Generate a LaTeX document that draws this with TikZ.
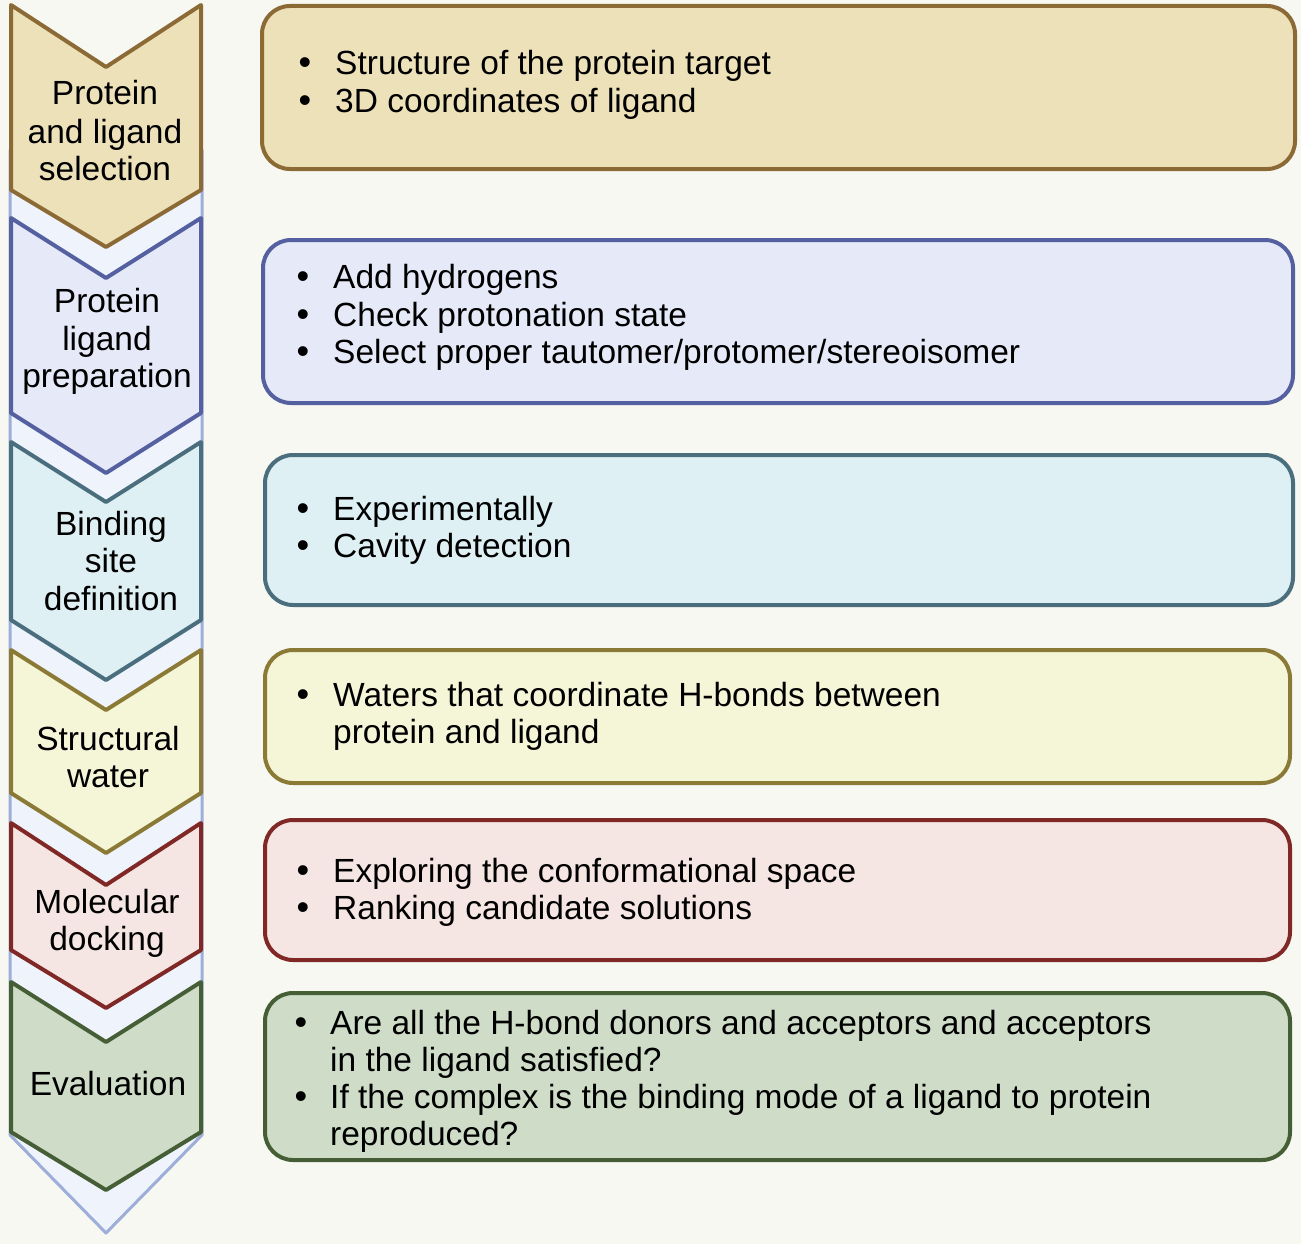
\documentclass[tikz,border=0pt]{standalone}
\usepackage{fontspec}
\setmainfont{Liberation Sans}
\definecolor{pagebg}{HTML}{F7F8F2}
\definecolor{bgf}{HTML}{EEF3FC}
\definecolor{bgd}{HTML}{9DAED8}
\definecolor{af}{HTML}{EDE1B9}\definecolor{ad}{HTML}{8B6A35}
\definecolor{bf}{HTML}{E6E9F8}\definecolor{bd}{HTML}{5460A0}
\definecolor{cf}{HTML}{DFF0F4}\definecolor{cd}{HTML}{4A6E7E}
\definecolor{df}{HTML}{F5F5D8}\definecolor{dd}{HTML}{8B7A35}
\definecolor{ef}{HTML}{F5E6E3}\definecolor{ed}{HTML}{802826}
\definecolor{ff}{HTML}{CEDCC8}\definecolor{fd}{HTML}{465E35}
\tikzset{
  lbl/.style={anchor=base, inner sep=0pt, font=\fontsize{33.5}{38}\selectfont},
  txt/.style={anchor=base west, inner sep=0pt, font=\fontsize{33.5}{38}\selectfont},
  bul/.style={anchor=base, inner sep=0pt, font=\fontsize{36}{38}\selectfont},
  chev/.style={line width=4pt, line join=round},
  boxs/.style={line width=4pt, rounded corners=28pt},
}
\newcommand{\chevron}[6]{% fill, draw, top, notch, sidebottom, tip
  \draw[chev, fill=#1, draw=#2] (11,#3) -- (106,#4) -- (201,#3) -- (201,#5) -- (106,#6) -- (11,#5) -- cycle;}
\begin{document}
\begin{tikzpicture}[x=1pt, y=-1pt]
\fill[pagebg] (0,0) rectangle (1301,1244);
\useasboundingbox (0,0) rectangle (1301,1244);
% background chevron (its top is hidden behind the first step)
\draw[line width=3pt, line join=round, fill=bgf, draw=bgd] (10,150) -- (202,150) -- (202,1135) -- (106,1233) -- (10,1135) -- cycle;
% chevrons
\chevron{af}{ad}{5}{67}{190}{247}
\chevron{bf}{bd}{218}{278}{413}{473}
\chevron{cf}{cd}{442}{502}{620}{680}
\chevron{df}{dd}{650}{710}{793}{853}
\chevron{ef}{ed}{823}{885}{950}{1008}
\chevron{ff}{fd}{982}{1042}{1132}{1190}
% chevron labels
\node[lbl] (a1) at (105,105) {Protein};
\node[lbl] (a2) at (105,143) {and ligand};
\node[lbl] (a3) at (105,180) {selection};
\node[lbl] (p1) at (107,312) {Protein};
\node[lbl] (p2) at (107,350) {ligand};
\node[lbl] (p3) at (107,387) {preparation};
\node[lbl] (c1) at (111,535) {Binding};
\node[lbl] (c2) at (111,572) {site};
\node[lbl] (c3) at (111,610) {definition};
\node[lbl] (d1) at (108,750) {Structural};
\node[lbl] (d2) at (108,787) {water};
\node[lbl] (e1) at (107,913) {Molecular};
\node[lbl] (e2) at (107,950) {docking};
\node[lbl] (f1) at (108,1095) {Evaluation};
% boxes
\draw[boxs, fill=af, draw=ad] (262,6) rectangle (1295,169);
\draw[boxs, fill=bf, draw=bd] (263,240) rectangle (1293,403);
\draw[boxs, fill=cf, draw=cd] (265,455) rectangle (1293,605);
\draw[boxs, fill=df, draw=dd] (265,650) rectangle (1290,783);
\draw[boxs, fill=ef, draw=ed] (265,820) rectangle (1290,960);
\draw[boxs, fill=ff, draw=fd] (265,993) rectangle (1290,1160);
% box texts
\node[bul] (ab1) at (305,75) {•}; \node[txt] (at1) at (335,75) {Structure of the protein target};
\node[bul] (ab2) at (305,113) {•}; \node[txt] (at2) at (335,113) {3D coordinates of ligand};
\node[bul] (bb1) at (303,288) {•}; \node[txt] (bt1) at (333,288) {Add hydrogens};
\node[bul] (bb2) at (303,326) {•}; \node[txt] (bt2) at (333,326) {Check protonation state};
\node[bul] (bb3) at (303,363) {•}; \node[txt] (bt3) at (333,363) {Select proper tautomer/protomer/stereoisomer};
\node[bul] (cb1) at (303,520) {•}; \node[txt] (ct1) at (333,520) {Experimentally};
\node[bul] (cb2) at (303,557) {•}; \node[txt] (ct2) at (333,557) {Cavity detection};
\node[bul] (db1) at (303,706) {•}; \node[txt] (dt1) at (333,706) {Waters that coordinate H-bonds between};
\node[txt] (dt2) at (333,743) {protein and ligand};
\node[bul] (eb1) at (303,882) {•}; \node[txt] (et1) at (333,882) {Exploring the conformational space};
\node[bul] (eb2) at (303,919) {•}; \node[txt] (et2) at (333,919) {Ranking candidate solutions};
\node[bul] (fb1) at (301,1034) {•}; \node[txt] (ft1) at (330,1034) {Are all the H-bond donors and acceptors and acceptors};
\node[txt] (ft2) at (330,1071) {in the ligand satisfied?};
\node[bul] (fb2) at (301,1108) {•}; \node[txt] (ft3) at (330,1108) {If the complex is the binding mode of a ligand to protein};
\node[txt] (ft4) at (330,1145) {reproduced?};
\end{tikzpicture}
\end{document}
